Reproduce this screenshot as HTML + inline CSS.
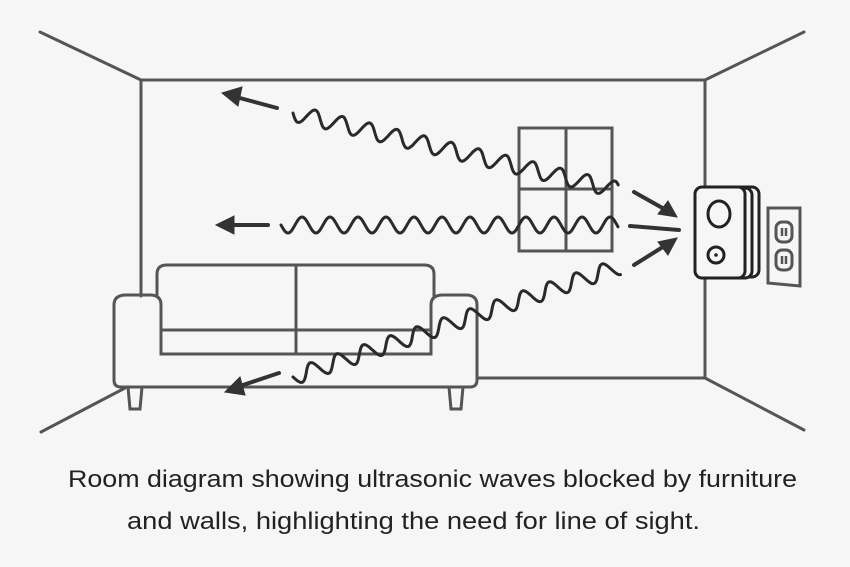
<!DOCTYPE html>
<html><head><meta charset="utf-8"><style>
html,body{margin:0;padding:0;background:#f6f6f6;}
svg{display:block}
</style></head><body>
<svg id="s" width="850" height="567" viewBox="0 0 850 567" xmlns="http://www.w3.org/2000/svg">
<rect width="850" height="567" fill="#f6f6f6"/>
<g stroke="#555" stroke-width="3" fill="none" stroke-linecap="round">
<polyline points="141,296 141,80 705,80 705,378 478,378"/>
<line x1="40" y1="32" x2="141" y2="80"/>
<line x1="804" y1="32" x2="705" y2="80"/>
<line x1="41" y1="432" x2="125" y2="388"/>
<line x1="705" y1="378" x2="804" y2="430"/>
<rect x="519" y="128" width="93" height="123"/>
<line x1="566" y1="128" x2="566" y2="251"/>
<line x1="519" y1="189" x2="612" y2="189"/>
<path d="M157,296 L157,274 Q157,265 167,265 L424,265 Q434,265 434,274 L434,296" fill="#f6f6f6"/>
<line x1="296" y1="265" x2="296" y2="354"/>
<path d="M114,378 L114,305 Q114,295 126,295 L150,295 Q161,295 161,305 L161,354 L431,354 L431,305 Q431,295 443,295 L466,295 Q477,295 477,305 L477,380 Q477,387 470,387 L121,387 Q114,387 114,380 Z"/>
<line x1="161" y1="330" x2="431" y2="330"/>
<path d="M128,387 L130,409 L140,409 L142,387"/>
<path d="M449,387 L451,409 L461,409 L463,387"/>
<polygon points="768,208 800,208 800,286 768,283"/>
<rect x="776" y="222" width="16" height="20" rx="6"/>
<rect x="776" y="250" width="16" height="20" rx="6"/>
</g>
<g stroke="#555" stroke-width="2.5" fill="none">
<line x1="782" y1="228" x2="782" y2="236"/><line x1="786" y1="228" x2="786" y2="236"/>
<line x1="782" y1="256" x2="782" y2="264"/><line x1="786" y1="256" x2="786" y2="264"/>
</g>
<g stroke="#222" stroke-width="3" fill="#f6f6f6">
<rect x="708" y="187" width="51" height="90" rx="7"/>
<rect x="702" y="188" width="50" height="90" rx="7"/>
<rect x="695" y="187" width="50" height="91" rx="7"/>
<ellipse cx="719" cy="214" rx="11" ry="13" fill="none"/>
<circle cx="716" cy="255" r="8" fill="none"/>
</g>
<circle cx="716" cy="255" r="1.8" fill="#222"/>
<g id="waves" stroke="#2a2a2a" stroke-width="3" fill="none" stroke-linecap="round"></g>
<g stroke="#333" stroke-width="4" fill="#333" stroke-linecap="round">
<line x1="277" y1="108" x2="236" y2="97"/><polygon points="222,93 242,87 238,106" stroke-width="1"/>
<line x1="268" y1="225" x2="232" y2="225"/><polygon points="216,225 234,216 234,234" stroke-width="1"/>
<line x1="279" y1="373" x2="240" y2="386"/><polygon points="225,392 240,377 245,395" stroke-width="1"/>
<line x1="634" y1="192" x2="666" y2="210"/><polygon points="677,217 658,214 668,201" stroke-width="1"/>
<line x1="630" y1="226" x2="679" y2="230"/>
<line x1="634" y1="265" x2="666" y2="245"/><polygon points="677,238 668,255 658,242" stroke-width="1"/>
</g>
<g font-family="Liberation Sans, sans-serif" font-size="24" fill="#222">
<text x="68" y="487" textLength="729" lengthAdjust="spacingAndGlyphs">Room diagram showing ultrasonic waves blocked by furniture</text>
<text x="127" y="529" textLength="573" lengthAdjust="spacingAndGlyphs">and walls, highlighting the need for line of sight.</text>
</g>
<script>
function wave(x1,y1,x2,y2,wl,amp){var dx=x2-x1,dy=y2-y1,L=Math.hypot(dx,dy),ux=dx/L,uy=dy/L,nx=-uy,ny=ux,d="";
for(var t=0;t<=L;t+=1){var o=amp*Math.sin(t/wl*2*Math.PI);var x=x1+ux*t+nx*o,y=y1+uy*t+ny*o;d+=(t?"L":"M")+x.toFixed(1)+","+y.toFixed(1);}
var p=document.createElementNS("http://www.w3.org/2000/svg","path");p.setAttribute("d",d);document.getElementById("waves").appendChild(p);}
wave(293,113,618,190,28,8);
wave(281,225,618,225,28,8);
wave(293,377,618,267,28,8);
</script>
</svg>
</body></html>
